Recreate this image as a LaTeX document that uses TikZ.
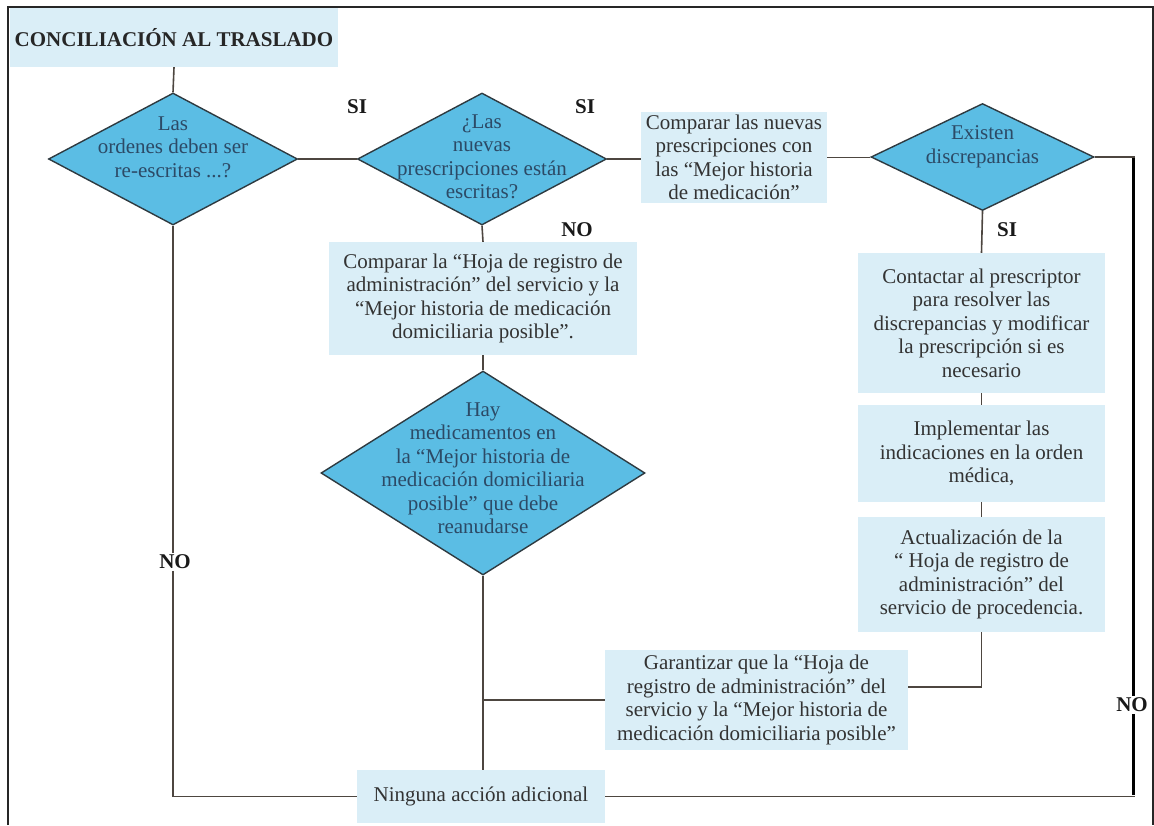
\documentclass[tikz,border=0pt]{standalone}
\usepackage{fontspec}
\setmainfont{Liberation Serif}
\usetikzlibrary{shapes.geometric}

\definecolor{boxfill}{HTML}{DAEEF7}
\definecolor{dmdfill}{HTML}{5BBDE4}
\definecolor{dmdline}{HTML}{2E3A40}
\definecolor{dmdtext}{HTML}{2C4A66}
\definecolor{boxtext}{HTML}{333333}
\definecolor{wire}{HTML}{4D4640}

\tikzset{
  txt/.style={font=\fontsize{21}{23.5}\selectfont, align=center, inner sep=0pt},
  stepbox/.style={txt, fill=boxfill, text=boxtext},
  dmd/.style={diamond, draw=dmdline, fill=dmdfill, line width=1.4pt, inner sep=0pt},
  dtxt/.style={txt, text=dmdtext},
  lab/.style={font=\bfseries\fontsize{21}{23.5}\selectfont, text=black!90, inner sep=1.5pt},
  conn/.style={draw=wire, line width=1.6pt},
  heavy/.style={draw=black, line width=3pt}
}

\begin{document}
\begin{tikzpicture}[x=1pt,y=-1pt]
\useasboundingbox (0,0) rectangle (1154,825);

% outer frame, open at the bottom
\draw[line width=1.2pt, black!85] (8,825) -- (8,7) -- (1153,7) -- (1153,825);

% title
\node[stepbox, minimum width=328pt, minimum height=59pt,
      font=\bfseries\fontsize{21}{23.5}\selectfont, text=black!85] (title) at (174,37.5) {CONCILIACIÓN AL TRASLADO};

% decisions
\node[dmd, minimum width=249pt, minimum height=132pt] (d1) at (173,159) {};
\node[dtxt] (d1t) at (173,147) {Las\\ordenes deben ser\\re-escritas ...?};

\node[dmd, minimum width=249pt, minimum height=132pt] (d2) at (482,159) {};
\node[dtxt] (d2t) at (482,157) {¿Las\\nuevas\\prescripciones están\\escritas?};

\node[dmd, minimum width=223pt, minimum height=107pt] (d4) at (982.5,157) {};
\node[dtxt] (d4t) at (982.5,147) {Existen\\discrepancias};

\node[dmd, minimum width=324pt, minimum height=204pt] (d5) at (483,473) {};
\node[dtxt] (d5t) at (483,468) {Hay\\medicamentos en\\la “Mejor historia de\\medicación domiciliaria\\posible” que debe\\reanudarse};

% actions
\node[stepbox, minimum width=186pt, minimum height=91pt] (b3) at (734,157.5)
  {Comparar las nuevas\\prescripciones con\\las “Mejor historia\\de medicación”};

\node[stepbox, minimum width=247pt, minimum height=140pt] (b5) at (981.5,323)
  {Contactar al prescriptor\\para resolver las\\discrepancias y modificar\\la prescripción si es\\necesario};

\node[stepbox, minimum width=247pt, minimum height=97pt] (b6) at (981.5,453.5)
  {Implementar las\\indicaciones en la orden\\médica,};

\node[stepbox, minimum width=247pt, minimum height=115pt] (b7) at (981.5,574.5)
  {Actualización de la\\“ Hoja de registro de\\administración” del\\servicio de procedencia.};

\node[stepbox, minimum width=308pt, minimum height=113pt] (bh) at (483,298.5)
  {Comparar la “Hoja de registro de\\administración” del servicio y la\\“Mejor historia de medicación\\domiciliaria posible”.};

\node[stepbox, minimum width=303pt, minimum height=100pt] (g) at (756.5,700)
  {Garantizar que la “Hoja de\\registro de administración” del\\servicio y la “Mejor historia de\\medicación domiciliaria posible”};

\node[stepbox, minimum width=248pt, minimum height=53pt] (ninguna) at (481,796.5)
  {Ninguna acción adicional};

% branch labels
\node[lab] (si1) at (357,107) {SI};
\node[lab] (si2) at (585,107) {SI};
\node[lab] (no2) at (577,230) {NO};
\node[lab] (si4) at (1007,230) {SI};
\node[lab, fill=white] (noL) at (175,562) {NO};
\node[lab, fill=white] (noR) at (1132,705) {NO};

\coordinate (cR) at (1133,157);

% connectors
\draw[conn] (title.south) -- (d1.north);
\draw[conn] (d1.east) -- (d2.west);
\draw[conn] (d2.east) -- (d2.east -| b3.west);
\draw[conn] (b3.east) -- (b3.east -| d4.west);
\draw[conn] (d4.east) -- ([xshift=1.5pt]cR);
\draw[heavy] ([yshift=-0.8pt]cR) -- (noR.north -| cR);
\draw[heavy] (noR.south -| cR) -- ([yshift=1.5pt]cR |- ninguna.east);
\draw[conn] ([xshift=1.5pt]cR |- ninguna.east) -- (ninguna.east);

\draw[conn] (d4.south) -- (b5.north);
\draw[conn] (b5.south) -- (b6.north);
\draw[conn] (b6.south) -- (b7.north);
\draw[conn] (b7.south) |- ([yshift=13pt]g.east);

\draw[conn] (d2.south) -- (bh.north);
\draw[conn] (bh.south) -- (d5.north);
\draw[conn] (d5.south) -- (d5.south |- ninguna.north);
\draw[conn] (g.west) -- (g.west -| d5.south);

\draw[conn] (d1.south) -- (noL.north -| d1.south);
\draw[conn] (noL.south -| d1.south) |- (ninguna.west);
\end{tikzpicture}
\end{document}
